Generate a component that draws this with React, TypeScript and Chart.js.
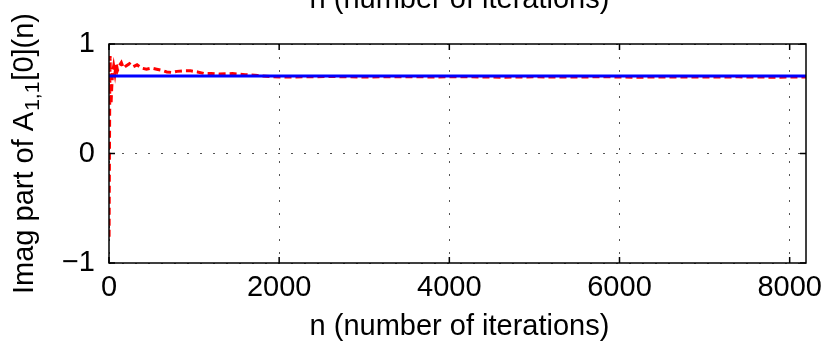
import React, { useEffect, useRef } from "react";
import { Chart, registerables } from "chart.js";

Chart.register(...registerables);

// Running estimate of the imaginary part of A_{1,1}[0] against iteration count
const iterN = [
  1, 3, 6, 9, 13, 18, 24, 32, 42, 55, 70, 85, 100, 120, 145, 170, 200, 240,
  280, 330, 380, 440, 500, 560, 620, 680, 740, 800, 880, 960, 1040, 1120,
  1200, 1300, 1450, 1600, 1750, 1900, 2050, 2300, 2600, 3000, 3400, 3800,
  4200, 4600, 5000, 5400, 5800, 6200, 6600, 7000, 7400, 7800, 8192,
];
const imagEstimate = [
  -0.76, -0.4, 0.1, 0.55, 0.89, 0.6, 0.45, 0.6, 0.74, 0.8, 0.73, 0.82, 0.76,
  0.8, 0.83, 0.78, 0.8, 0.82, 0.79, 0.81, 0.78, 0.77, 0.78, 0.77, 0.76, 0.745,
  0.74, 0.75, 0.755, 0.755, 0.745, 0.73, 0.73, 0.725, 0.73, 0.72, 0.712, 0.703,
  0.698, 0.7, 0.703, 0.698, 0.702, 0.699, 0.701, 0.697, 0.7, 0.698, 0.701,
  0.697, 0.699, 0.698, 0.7, 0.697, 0.699,
];
// Exact value the estimate converges to
const trueN = [0, 8192];
const trueValue = [0.7071, 0.7071];

const xTickValues = [0, 2000, 4000, 6000, 8000];
const yTickValues = [-1, 0, 1];
const xRange = [0, 8192];
const yRange = [-1, 1];

const xTitle = "n (number of iterations)";
const yTitleMain = "Imag part of A";
const yTitleSub = "1,1";
const yTitleTail = "[0](n)";

const FONT = '"Liberation Sans", Arial, Helvetica, sans-serif';

const framePlugin = {
  id: "matlabFrame",
  afterDatasetsDraw(chart: any) {
    const { ctx, chartArea: a, scales } = chart;
    ctx.save();
    ctx.strokeStyle = "#000";
    ctx.lineWidth = 1.5;
    ctx.setLineDash([]);
    // inward tick marks on all four sides
    const tl = 6;
    ctx.beginPath();
    for (const v of xTickValues) {
      const px = scales.x.getPixelForValue(v);
      ctx.moveTo(px, a.bottom);
      ctx.lineTo(px, a.bottom - tl);
      ctx.moveTo(px, a.top);
      ctx.lineTo(px, a.top + tl);
    }
    for (const v of yTickValues) {
      const py = scales.y.getPixelForValue(v);
      ctx.moveTo(a.left, py);
      ctx.lineTo(a.left + tl, py);
      ctx.moveTo(a.right, py);
      ctx.lineTo(a.right - tl, py);
    }
    ctx.stroke();
    ctx.strokeRect(a.left, a.top, a.right - a.left, a.bottom - a.top);
    ctx.restore();
  },
  afterDraw(chart: any) {
    const { ctx, chartArea: a } = chart;
    const cx = (a.left + a.right) / 2 + 2;
    ctx.save();
    ctx.fillStyle = "#000";
    ctx.textBaseline = "alphabetic";
    ctx.textAlign = "center";
    ctx.font = `29px ${FONT}`;
    // x-axis title, plus the one of the panel above peeking in at the top
    ctx.fillText(xTitle, cx, 335);
    ctx.fillText(xTitle, cx, 8);

    // rotated y-axis title with subscript
    const big = `29px ${FONT}`;
    const small = `21px ${FONT}`;
    ctx.font = big;
    const w1 = ctx.measureText(yTitleMain).width;
    const w3 = ctx.measureText(yTitleTail).width;
    ctx.font = small;
    const w2 = ctx.measureText(yTitleSub).width;
    const total = w1 + w2 + w3 + 2;
    ctx.translate(33, (a.top + a.bottom) / 2);
    ctx.rotate(-Math.PI / 2);
    ctx.textAlign = "left";
    let x = -total / 2;
    ctx.font = big;
    ctx.fillText(yTitleMain, x, 0);
    x += w1 + 1;
    ctx.font = small;
    ctx.fillText(yTitleSub, x, 6);
    x += w2 + 1;
    ctx.font = big;
    ctx.fillText(yTitleTail, x, 0);
    ctx.restore();
  },
};

function zeroPad(scale: any) {
  scale.paddingLeft = 0;
  scale.paddingRight = 0;
  scale.paddingTop = 0;
  scale.paddingBottom = 0;
}

export default function App() {
  const ref = useRef<HTMLCanvasElement | null>(null);

  useEffect(() => {
    if (!ref.current) return;
    const chart = new Chart(ref.current, {
      type: "line",
      data: {
        datasets: [
          {
            label: "exact",
            data: trueN.map((n, i) => ({ x: n, y: trueValue[i] })),
            borderColor: "#0000ff",
            borderWidth: 3,
            pointRadius: 0,
            fill: false,
          },
          {
            label: "estimate",
            data: iterN.map((n, i) => ({ x: n, y: imagEstimate[i] })),
            borderColor: "#ff0000",
            borderWidth: 3,
            borderDash: [7, 4],
            pointRadius: 0,
            fill: false,
            tension: 0,
          },
        ],
      },
      options: {
        responsive: false,
        animation: false,
        events: [],
        layout: { padding: { top: 44, right: 19, left: 0, bottom: 0 } },
        plugins: {
          legend: { display: false },
          tooltip: { enabled: false },
          title: { display: false },
        },
        scales: {
          x: {
            type: "linear",
            min: xRange[0],
            max: xRange[1],
            afterBuildTicks: (s: any) => {
              s.ticks = xTickValues.map((v) => ({ value: v }));
            },
            afterFit: (s: any) => {
              s.height = 78;
              zeroPad(s);
            },
            ticks: {
              autoSkip: false,
              maxRotation: 0,
              padding: 8,
              color: "#000",
              font: { family: FONT, size: 29 },
              callback: (v: any) => String(v),
            },
            grid: {
              color: "#555",
              lineWidth: 1,
              drawTicks: false,
            },
            border: { display: false, dash: [2, 11] },
          },
          y: {
            type: "linear",
            min: yRange[0],
            max: yRange[1],
            afterBuildTicks: (s: any) => {
              s.ticks = yTickValues.map((v) => ({ value: v }));
            },
            afterFit: (s: any) => {
              s.width = 109;
              zeroPad(s);
            },
            ticks: {
              autoSkip: false,
              padding: 14,
              color: "#000",
              font: { family: FONT, size: 29 },
              callback: (v: any) =>
                v < 0 ? "\u2212" + Math.abs(v) : String(v),
            },
            grid: {
              color: "#555",
              lineWidth: 1,
              drawTicks: false,
            },
            border: { display: false, dash: [2, 11] },
          },
        },
      },
      plugins: [framePlugin],
    });
    return () => chart.destroy();
  }, []);

  return (
    <div
      style={{
        position: "fixed",
        left: 0,
        top: 0,
        width: 825,
        height: 341,
        background: "#fff",
      }}
    >
      <canvas ref={ref} width={825} height={341} style={{ display: "block" }} />
    </div>
  );
}
